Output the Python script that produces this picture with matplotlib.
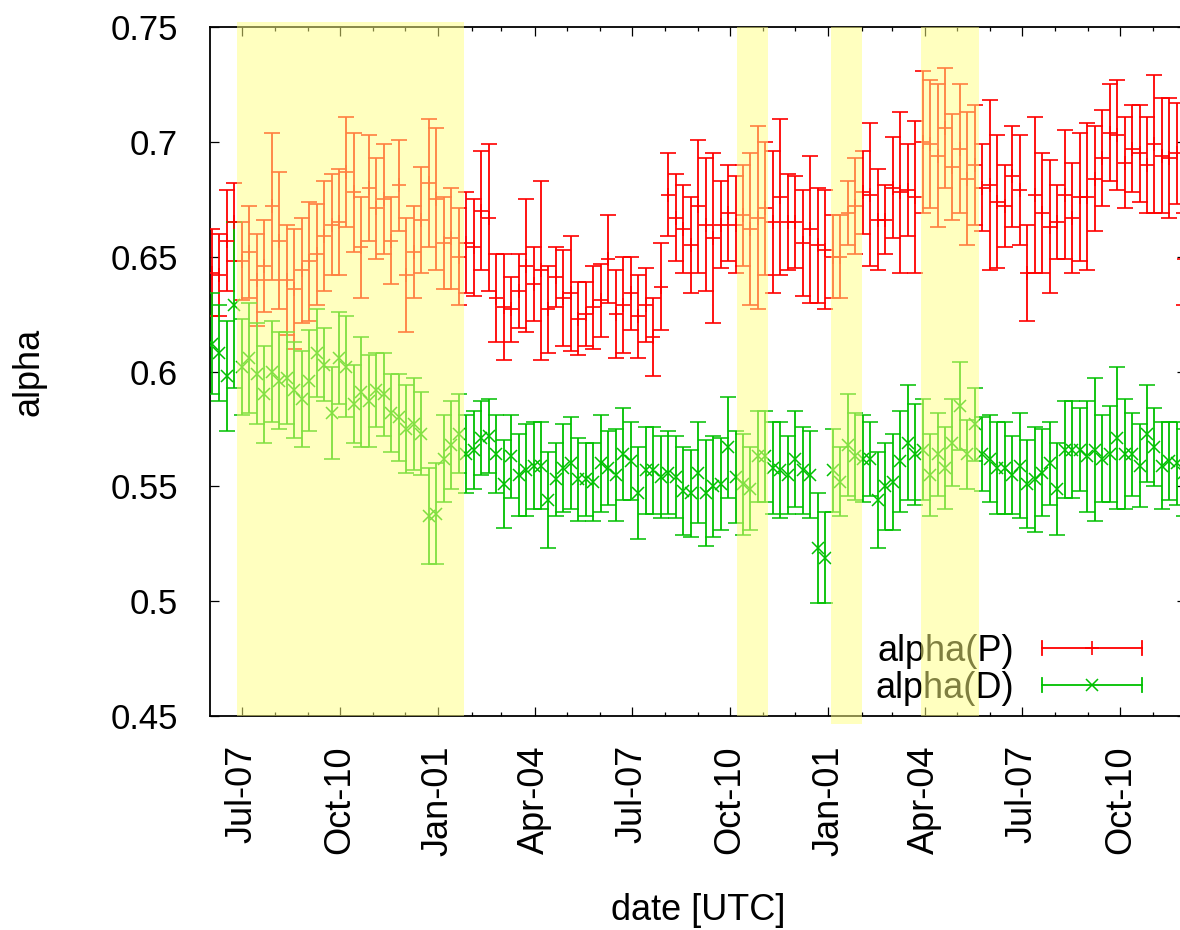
import matplotlib
matplotlib.use('Agg')
import matplotlib.pyplot as plt
import matplotlib.dates as mdates
from matplotlib.legend_handler import HandlerBase
from matplotlib.lines import Line2D
import pandas as pd

plt.rcParams['font.family'] = ['Liberation Sans', 'DejaVu Sans']

# weekly samples
dates = pd.date_range('2012-06-03', periods=131, freq='7D')

alpha_p = [
    0.643, 0.642, 0.657, 0.665, 0.648, 0.652, 0.640, 0.646, 0.672, 0.657,
    0.640, 0.636, 0.644, 0.648, 0.651, 0.659, 0.664, 0.665, 0.687, 0.678,
    0.654, 0.680, 0.671, 0.675, 0.657, 0.681, 0.642, 0.652, 0.666, 0.682,
    0.675, 0.656, 0.658, 0.650, 0.656, 0.654, 0.670, 0.667, 0.632, 0.628,
    0.627, 0.635, 0.646, 0.638, 0.644, 0.627, 0.641, 0.632, 0.634, 0.623,
    0.625, 0.628, 0.631, 0.649, 0.625, 0.629, 0.634, 0.624, 0.629, 0.615,
    0.637, 0.677, 0.667, 0.662, 0.655, 0.672, 0.664, 0.658, 0.664, 0.669,
    0.664, 0.668, 0.662, 0.667, 0.671, 0.665, 0.676, 0.665, 0.665, 0.656,
    0.662, 0.655, 0.653, 0.650, 0.650, 0.669, 0.672, 0.678, 0.677, 0.666,
    0.666, 0.680, 0.678, 0.679, 0.676, 0.700, 0.699, 0.694, 0.706, 0.689,
    0.697, 0.684, 0.690, 0.680, 0.681, 0.674, 0.672, 0.685, 0.679, 0.643,
    0.677, 0.669, 0.663, 0.665, 0.677, 0.667, 0.676, 0.676, 0.684, 0.693,
    0.704, 0.703, 0.691, 0.697, 0.695, 0.690, 0.699, 0.694, 0.693, 0.695,
    0.649,
]
alpha_p_err = [
    0.019, 0.018, 0.022, 0.017, 0.017, 0.020, 0.020, 0.020, 0.032, 0.030,
    0.024, 0.026, 0.023, 0.026, 0.022, 0.024, 0.022, 0.023, 0.024, 0.026,
    0.022, 0.023, 0.022, 0.024, 0.019, 0.020, 0.025, 0.020, 0.023, 0.028,
    0.031, 0.020, 0.022, 0.021, 0.022, 0.021, 0.026, 0.032, 0.019, 0.023,
    0.014, 0.016, 0.029, 0.016, 0.039, 0.019, 0.013, 0.021, 0.025, 0.016,
    0.014, 0.018, 0.016, 0.019, 0.019, 0.021, 0.016, 0.018, 0.016, 0.017,
    0.019, 0.018, 0.019, 0.019, 0.021, 0.029, 0.029, 0.037, 0.019, 0.021,
    0.021, 0.022, 0.033, 0.040, 0.029, 0.031, 0.034, 0.021, 0.020, 0.023,
    0.032, 0.025, 0.026, 0.018, 0.018, 0.014, 0.021, 0.018, 0.031, 0.022,
    0.015, 0.022, 0.035, 0.020, 0.033, 0.031, 0.028, 0.031, 0.026, 0.023,
    0.028, 0.029, 0.026, 0.019, 0.037, 0.029, 0.018, 0.022, 0.024, 0.021,
    0.034, 0.026, 0.029, 0.016, 0.028, 0.024, 0.028, 0.032, 0.023, 0.021,
    0.021, 0.024, 0.020, 0.019, 0.021, 0.021, 0.030, 0.025, 0.026, 0.022,
    0.020,
]

alpha_d = [
    0.612, 0.608, 0.598, 0.629, 0.602, 0.606, 0.599, 0.590, 0.600, 0.596,
    0.597, 0.592, 0.588, 0.596, 0.608, 0.603, 0.582, 0.606, 0.602, 0.586,
    0.591, 0.587, 0.592, 0.590, 0.582, 0.580, 0.575, 0.577, 0.573, 0.537,
    0.538, 0.562, 0.568, 0.573, 0.564, 0.566, 0.571, 0.572, 0.564, 0.551,
    0.563, 0.555, 0.557, 0.559, 0.559, 0.544, 0.553, 0.558, 0.560, 0.553,
    0.553, 0.552, 0.560, 0.558, 0.555, 0.564, 0.561, 0.547, 0.557, 0.557,
    0.554, 0.556, 0.554, 0.548, 0.547, 0.556, 0.547, 0.550, 0.551, 0.567,
    0.554, 0.551, 0.549, 0.563, 0.563, 0.558, 0.557, 0.555, 0.562, 0.557,
    0.555, 0.523, 0.519, 0.557, 0.552, 0.568, 0.563, 0.562, 0.562, 0.544,
    0.550, 0.552, 0.561, 0.569, 0.564, 0.566, 0.555, 0.564, 0.558, 0.569,
    0.585, 0.564, 0.577, 0.564, 0.562, 0.558, 0.558, 0.555, 0.559, 0.551,
    0.553, 0.556, 0.560, 0.549, 0.566, 0.566, 0.566, 0.563, 0.566, 0.562,
    0.564, 0.571, 0.564, 0.564, 0.559, 0.573, 0.567, 0.559, 0.561, 0.560,
    0.556,
]
alpha_d_err = [
    0.022, 0.021, 0.024, 0.036, 0.021, 0.024, 0.022, 0.021, 0.022, 0.021,
    0.020, 0.021, 0.021, 0.022, 0.019, 0.016, 0.020, 0.020, 0.022, 0.017,
    0.024, 0.020, 0.016, 0.018, 0.017, 0.019, 0.019, 0.020, 0.018, 0.021,
    0.022, 0.019, 0.019, 0.017, 0.017, 0.017, 0.016, 0.016, 0.017, 0.019,
    0.018, 0.018, 0.020, 0.019, 0.019, 0.021, 0.016, 0.019, 0.020, 0.018,
    0.016, 0.017, 0.021, 0.016, 0.020, 0.020, 0.017, 0.020, 0.019, 0.019,
    0.018, 0.018, 0.018, 0.019, 0.019, 0.022, 0.023, 0.022, 0.020, 0.022,
    0.020, 0.022, 0.018, 0.020, 0.020, 0.020, 0.021, 0.017, 0.021, 0.019,
    0.019, 0.024, 0.020, 0.018, 0.015, 0.022, 0.019, 0.019, 0.016, 0.021,
    0.019, 0.021, 0.022, 0.025, 0.022, 0.022, 0.018, 0.018, 0.018, 0.019,
    0.019, 0.015, 0.016, 0.016, 0.019, 0.020, 0.020, 0.017, 0.023, 0.019,
    0.023, 0.019, 0.018, 0.020, 0.021, 0.021, 0.018, 0.024, 0.031, 0.019,
    0.021, 0.031, 0.024, 0.018, 0.018, 0.021, 0.017, 0.019, 0.017, 0.018,
    0.019,
]

# shaded periods (start, end)
shade_start = ['2012-06-27', '2013-10-07', '2014-01-03', '2014-03-29']
shade_end = ['2013-01-25', '2013-11-05', '2014-02-01', '2014-05-22']

y_ticks = [0.45, 0.5, 0.55, 0.6, 0.65, 0.7, 0.75]
y_tick_labels = ['0.45', '0.5', '0.55', '0.6', '0.65', '0.7', '0.75']

RED = '#ff0000'
GREEN = '#00c000'


class CapLineHandler(HandlerBase):
    # gnuplot-like key sample: horizontal bar with end caps and point in the middle
    def create_artists(self, legend, orig_handle, xdescent, ydescent,
                       width, height, fontsize, trans):
        x0 = -xdescent
        x1 = x0 + width
        yc = -ydescent + height / 2
        c = height * 0.28
        col = orig_handle.get_color()
        lw = orig_handle.get_linewidth()
        arts = [
            Line2D([x0, x1], [yc, yc], color=col, lw=lw),
            Line2D([x0, x0], [yc - c, yc + c], color=col, lw=lw),
            Line2D([x1, x1], [yc - c, yc + c], color=col, lw=lw),
            Line2D([(x0 + x1) / 2], [yc], color=col, ls='none',
                   marker=orig_handle.get_marker(),
                   ms=orig_handle.get_markersize(),
                   mew=orig_handle.get_markeredgewidth()),
        ]
        for a in arts:
            a.set_transform(trans)
        return arts


fig = plt.figure(figsize=(11.8, 9.3), dpi=100)
ax = fig.add_axes([210 / 1180, 214 / 930, 976 / 1180, 689 / 930])

ax.errorbar(dates, alpha_p, yerr=alpha_p_err, fmt='+', color=RED, ms=10,
            mew=1.2, elinewidth=1.3, capsize=6, capthick=1.3, zorder=3)
ax.errorbar(dates, alpha_d, yerr=alpha_d_err, fmt='x', color=GREEN, ms=8,
            mew=1.1, elinewidth=1.3, capsize=6, capthick=1.3, zorder=3)

for i, (s, e) in enumerate(zip(shade_start, shade_end)):
    lo, hi = 0.0, 1.0
    if i == 0:
        hi = 1.007
    if i == 2:
        lo = -0.012
    ax.axvspan(pd.Timestamp(s), pd.Timestamp(e), ymin=lo, ymax=hi,
               color='#ffff80', alpha=0.5, lw=0, zorder=6, clip_on=False)

ax.set_xlim(pd.Timestamp('2012-06-01 07:00'), pd.Timestamp('2014-12-01 12:00'))
ax.set_ylim(0.45, 0.75)
ax.set_yticks(y_ticks)
ax.set_yticklabels(y_tick_labels)

ax.xaxis.set_major_locator(mdates.MonthLocator(bymonth=[1, 4, 7, 10]))
ax.xaxis.set_major_formatter(mdates.DateFormatter('%b-%m'))
ax.xaxis.set_minor_locator(mdates.MonthLocator())

ax.tick_params(which='both', direction='in', top=True, right=True, width=0.9)
ax.tick_params(which='major', length=6.5)
ax.tick_params(which='minor', length=3.2)
ax.tick_params(axis='x', which='major', labelrotation=90, labelsize=26, pad=21)
ax.tick_params(axis='y', labelsize=25, pad=23)
for sp in ax.spines.values():
    sp.set_linewidth(1.3)

ax.set_xlabel('date [UTC]', fontsize=26)
ax.set_ylabel('alpha', fontsize=26)
ax.xaxis.label.set_va('center')
ax.yaxis.label.set_va('center')
ax.xaxis.set_label_coords(0.5, -0.2816)
ax.yaxis.set_label_coords(-0.1855, 0.5)

hp = Line2D([], [], color=RED, marker='+', ms=10, mew=1.2, lw=1.3)
hd = Line2D([], [], color=GREEN, marker='x', ms=8, mew=1.1, lw=1.3)
ax.legend([hp, hd], ['alpha(P)', 'alpha(D)'], handler_map={Line2D: CapLineHandler()},
          loc='lower right', bbox_to_anchor=(0.955, 0.015), frameon=False,
          markerfirst=False, handlelength=2.77, handletextpad=0.78,
          labelspacing=0.05, borderpad=0, borderaxespad=0, fontsize=26)

fig.savefig('out.png', dpi=100)
